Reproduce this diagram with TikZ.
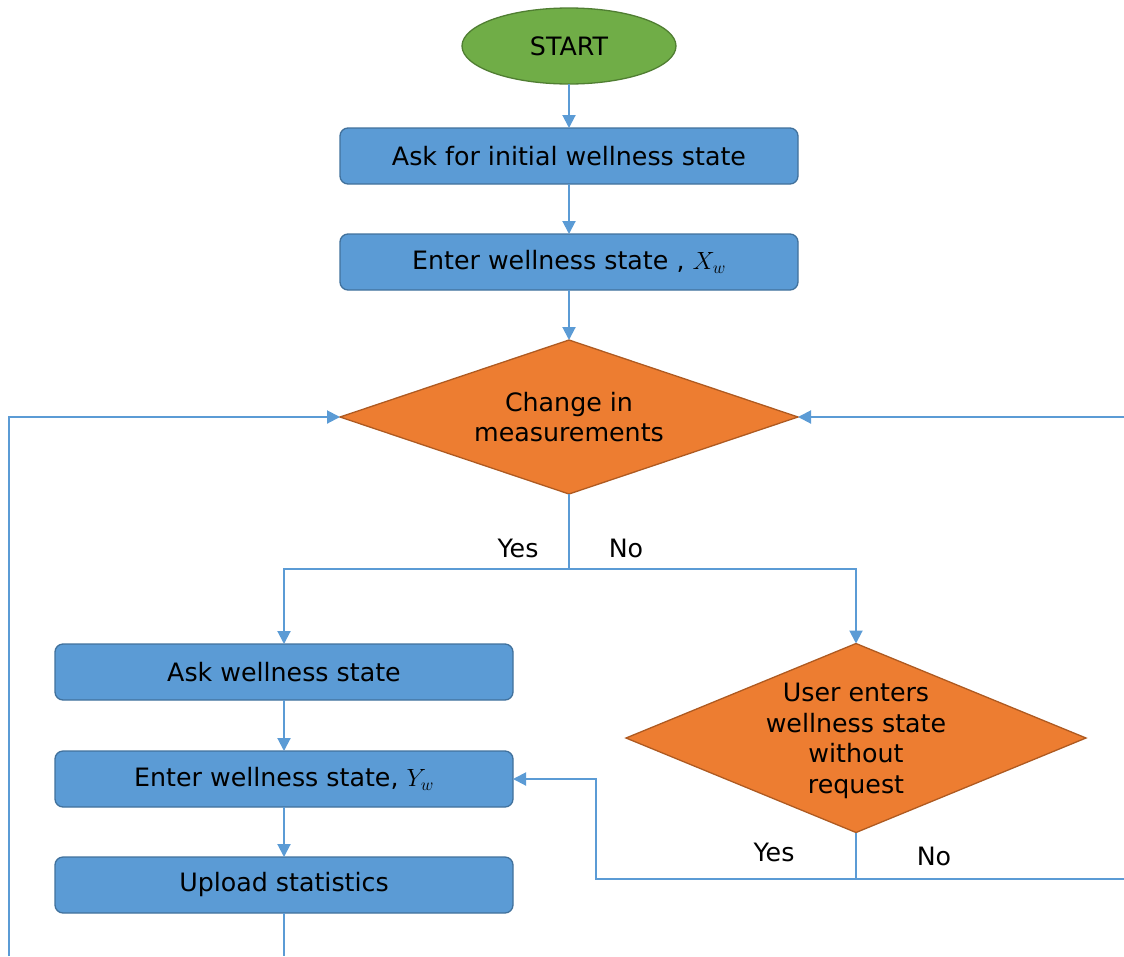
\documentclass[tikz,border=0pt]{standalone}
\usepackage{fontspec}
\setmainfont{DejaVu Sans}
\usetikzlibrary{arrows.meta,shapes.geometric}
\definecolor{bfill}{HTML}{5B9BD5}
\definecolor{bdraw}{HTML}{41719C}
\definecolor{ofill}{HTML}{ED7D31}
\definecolor{odraw}{HTML}{AE5A21}
\definecolor{gfill}{HTML}{70AD47}
\definecolor{gdraw}{HTML}{507E32}
\definecolor{lcol}{HTML}{5B9BD5}
\tikzset{
  txt/.style={font=\fontsize{25.3}{30.5}\selectfont, text=black},
  procbox/.style={txt, rectangle, rounded corners=8pt, fill=bfill, draw=bdraw, line width=1.3pt,
    minimum width=458pt, minimum height=56pt, inner sep=0pt, outer sep=0pt},
  decis/.style={diamond, fill=ofill, draw=odraw, line width=1.3pt, inner sep=0pt, outer sep=0pt},
  termin/.style={txt, ellipse, fill=gfill, draw=gdraw, line width=1.3pt,
    minimum width=214pt, minimum height=76pt, inner sep=0pt, outer sep=0pt},
  conn/.style={draw=lcol, line width=2pt},
  arr/.style={conn, -{Triangle[length=13pt,width=13pt]}},
  lbl/.style={txt, inner sep=0pt},
}
\begin{document}
\begin{tikzpicture}[x=1pt,y=-1pt]
\useasboundingbox (0,0) rectangle (1124,956);
\node[termin] (start) at (569,46) {START};
\node[procbox] (b1) at (569,156) {Ask for initial wellness state};
\node[procbox] (b2) at (569,262) {Enter wellness state , $X_w$};
\node[decis, minimum width=458pt, minimum height=154pt,
  label={[txt, align=center]center:Change in\\measurements}] (d1) at (569,417) {};
\node[procbox] (b3) at (284,672) {Ask wellness state};
\node[procbox] (b4) at (284,779) {Enter wellness state, $Y_w$};
\node[procbox] (b5) at (284,885) {Upload statistics};
\node[decis, minimum width=460pt, minimum height=189pt,
  label={[txt, align=center, yshift=-3pt]center:User enters\\wellness state\\without\\request}] (d2) at (856,738) {};
\coordinate (sp) at (569,569);
\coordinate (j2) at (856,879);
\coordinate (k) at (596,779);
\coordinate (ll) at (9,956);
\coordinate (rr) at (1124,417);
\coordinate (rr2) at (1124,879);
\coordinate (bot) at (284,956);
\draw[arr] (start) -- (b1);
\draw[arr] (b1) -- (b2);
\draw[arr] (b2) -- (d1.north);
\draw[conn] (d1.south) -- (sp);
\draw[arr] (sp) -| (b3.north);
\draw[arr] (sp) -| (d2.north);
\draw[arr] (b3) -- (b4);
\draw[arr] (b4) -- (b5);
\draw[conn] (b5) -- (bot);
\draw[arr] (ll) |- (d1.west);
\draw[arr] (rr) -- (d1.east);
\draw[conn] (d2.south) -- (j2);
\draw[arr] (j2) -| (k) -- (b4.east);
\draw[conn] (j2) -- (rr2);
\node[lbl] (y1) at (518,548) {Yes};
\node[lbl] (n1) at (626,548) {No};
\node[lbl] (y2) at (774,852) {Yes};
\node[lbl] (n2) at (934,856) {No};
\end{tikzpicture}
\end{document}
